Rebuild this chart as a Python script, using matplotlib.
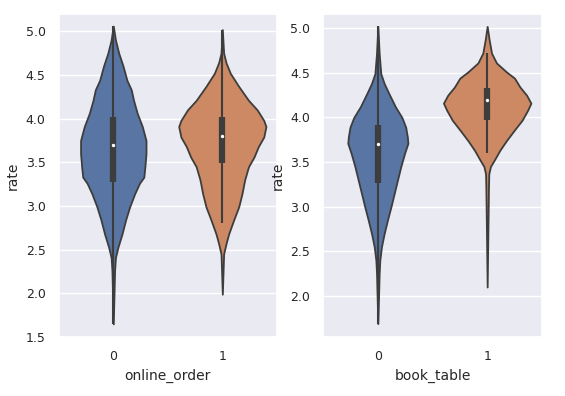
import numpy as np
import matplotlib
matplotlib.use("Agg")
import matplotlib.pyplot as plt
import seaborn as sns

sns.set_theme(style="darkgrid")
plt.rcParams['font.family'] = ['DejaVu Sans']

# ---- data ----
categories = ["0", "1"]
left_xlabel = "online_order"
right_xlabel = "book_table"
ylabel = "rate"

# online_order = 0  (rate level, half width of the violin)
oo0_y = [1.65, 2.26, 2.41, 2.53, 2.68, 2.84, 2.99, 3.14, 3.26, 3.33, 3.45, 3.60, 3.75,
         3.91, 4.06, 4.21, 4.33, 4.44, 4.60, 4.75, 4.90, 5.06]
oo0_w = [0.0, 0.012, 0.02, 0.043, 0.08, 0.113, 0.15, 0.196, 0.24, 0.28, 0.29, 0.30, 0.30,
         0.266, 0.22, 0.186, 0.165, 0.125, 0.09, 0.05, 0.02, 0.0]
# online_order = 1
oo1_y = [1.99, 2.45, 2.57, 2.68, 2.84, 2.99, 3.14, 3.30, 3.45, 3.56, 3.68, 3.79, 3.91,
         3.98, 4.10, 4.21, 4.37, 4.52, 4.64, 4.75, 5.02]
oo1_w = [0.0, 0.012, 0.034, 0.058, 0.104, 0.15, 0.18, 0.205, 0.24, 0.29, 0.33, 0.38, 0.40,
         0.38, 0.32, 0.24, 0.15, 0.073, 0.034, 0.012, 0.0]
# book_table = 0
bt0_y = [1.69, 2.25, 2.40, 2.55, 2.70, 2.85, 3.00, 3.15, 3.30, 3.45, 3.60, 3.71, 3.78,
         3.89, 4.00, 4.12, 4.27, 4.38, 4.49, 4.72, 5.02]
bt0_w = [0.0, 0.012, 0.018, 0.033, 0.058, 0.088, 0.12, 0.15, 0.18, 0.21, 0.245, 0.275, 0.27,
         0.255, 0.22, 0.16, 0.10, 0.058, 0.027, 0.012, 0.0]
# book_table = 1
bt1_y = [2.10, 3.22, 3.37, 3.45, 3.52, 3.63, 3.74, 3.86, 3.97, 4.08, 4.16, 4.25, 4.34,
         4.44, 4.51, 4.61, 4.72, 4.87, 5.02]
bt1_w = [0.0, 0.012, 0.015, 0.03, 0.064, 0.115, 0.176, 0.25, 0.32, 0.37, 0.40, 0.36, 0.30,
         0.25, 0.176, 0.085, 0.04, 0.018, 0.0]

# inner box stats: q1, median, q3, whisker low, whisker high
oo_stats = [(3.28, 3.70, 4.02, 1.65, 5.06), (3.49, 3.80, 4.02, 2.80, 5.02)]
bt_stats = [(3.26, 3.70, 3.91, 1.69, 5.02), (3.97, 4.19, 4.33, 3.60, 4.72)]

colors = ["#5875A4", "#CC8963"]
edge = "#3d3d3d"

fig = plt.figure(figsize=(5.65, 3.96), dpi=100)
ax1 = fig.add_axes([0.104, 0.149, 0.386, 0.816])
ax2 = fig.add_axes([0.572, 0.149, 0.387, 0.816])


def draw(ax, shapes, stats, xlabel, ylim, yticks):
    for i, ((ys, ws), st) in enumerate(zip(shapes, stats)):
        ys = np.asarray(ys)
        ws = np.asarray(ws)
        ax.fill_betweenx(ys, i - ws, i + ws, facecolor=colors[i],
                         edgecolor=edge, linewidth=1.3, zorder=2)
        q1, med, q3, lo, hi = st
        ax.plot([i, i], [lo, hi], color=edge, lw=1.5, solid_capstyle="butt", zorder=3)
        ax.plot([i, i], [q1, q3], color=edge, lw=4.5, solid_capstyle="butt", zorder=3)
        ax.scatter([i], [med], s=6, color="white", zorder=4, linewidths=0)
    ax.set_xlim(-0.5, 1.5)
    ax.set_xticks([0, 1])
    ax.set_xticklabels(categories)
    ax.set_ylim(*ylim)
    ax.set_yticks(yticks)
    ax.set_yticklabels([f"{t:.1f}" for t in yticks])
    ax.set_xlabel(xlabel, fontsize=10, color="#262626")
    ax.set_ylabel(ylabel, fontsize=10, color="#262626")
    ax.tick_params(labelsize=9, colors="#262626")
    ax.grid(axis="x", visible=False)
    ax.grid(axis="y", color="white", lw=1)


draw(ax1, [(oo0_y, oo0_w), (oo1_y, oo1_w)], oo_stats, left_xlabel,
     (1.5, 5.2), [1.5, 2.0, 2.5, 3.0, 3.5, 4.0, 4.5, 5.0])
draw(ax2, [(bt0_y, bt0_w), (bt1_y, bt1_w)], bt_stats, right_xlabel,
     (1.54, 5.16), [2.0, 2.5, 3.0, 3.5, 4.0, 4.5, 5.0])

fig.savefig("out.png", dpi=100)
